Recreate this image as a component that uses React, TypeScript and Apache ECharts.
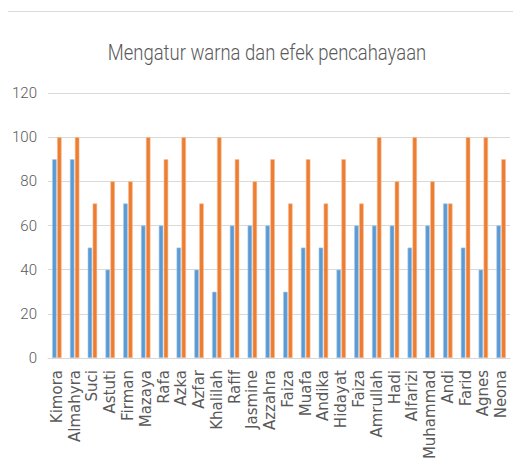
import React, { useEffect, useRef } from "react";
import * as echarts from "echarts";

const titleText = "Mengatur warna dan efek pencahayaan";
const categories = [
  "Kimora", "Almahyra", "Suci", "Astuti", "Firman", "Mazaya", "Rafa", "Azka", "Azfar",
  "Khalilah", "Rafif", "Jasmine", "Azzahra", "Faiza", "Muafa", "Andika", "Hidayat",
  "Faiza", "Amrullah", "Hadi", "Alfarizi", "Muhammad", "Andi", "Farid", "Agnes", "Neona",
];
const seriesA = [90, 90, 50, 40, 70, 60, 60, 50, 40, 30, 60, 60, 60, 30, 50, 50, 40, 60, 60, 60, 50, 60, 70, 50, 40, 60];
const seriesB = [100, 100, 70, 80, 80, 100, 90, 100, 70, 100, 90, 80, 90, 70, 90, 70, 90, 70, 100, 80, 100, 80, 70, 100, 100, 90];
const yMin = 0;
const yMax = 120;
const yStep = 20;

export default function App() {
  const ref = useRef<HTMLDivElement>(null);
  useEffect(() => {
    if (!ref.current) return;
    const chart = echarts.init(ref.current, null, { renderer: "svg" });
    chart.setOption({
      animation: false,
      backgroundColor: "#ffffff",
      graphic: [
        {
          type: "rect",
          shape: { x: 6.5, y: 11.5, width: 530, height: 480 },
          style: { fill: "none", stroke: "#D9D9D9", lineWidth: 1 },
          silent: true,
        },
        {
          type: "text",
          x: 267,
          y: 52,
          scaleX: 0.84,
          style: {
            text: titleText,
            fontFamily: "Roboto, sans-serif",
            fontWeight: 300,
            fontSize: 22,
            fill: "#595959",
            align: "center",
            verticalAlign: "middle",
          },
          silent: true,
        },
      ],
      grid: { left: 48, right: 11, top: 93, bottom: 118, containLabel: false },
      xAxis: {
        type: "category",
        data: categories,
        axisLine: { lineStyle: { color: "#D9D9D9", width: 1 } },
        axisTick: { show: false },
        axisLabel: {
          rotate: 90,
          interval: 0,
          margin: 12,
          fontFamily: "'DejaVu Sans', sans-serif",
          fontSize: 15,
          color: "#595959",
        },
      },
      yAxis: {
        type: "value",
        min: yMin,
        max: yMax,
        interval: yStep,
        axisLine: { show: false },
        axisTick: { show: false },
        splitLine: { lineStyle: { color: "#D9D9D9", width: 1 } },
        axisLabel: {
          margin: 11,
          fontFamily: "Roboto, sans-serif",
          fontWeight: 300,
          fontSize: 15,
          color: "#595959",
        },
      },
      series: [
        {
          type: "bar",
          data: seriesA,
          barWidth: 4.5,
          barGap: "10%",
          itemStyle: { color: "#5B9BD5", borderColor: "#A9CBEA", borderWidth: 0.6 },
        },
        {
          type: "bar",
          data: seriesB,
          barWidth: 4.5,
          itemStyle: { color: "#ED7D31", borderColor: "#F6BE98", borderWidth: 0.6 },
        },
      ],
    });
    return () => chart.dispose();
  }, []);
  return <div ref={ref} style={{ width: 521, height: 476, margin: -8 }} />;
}
